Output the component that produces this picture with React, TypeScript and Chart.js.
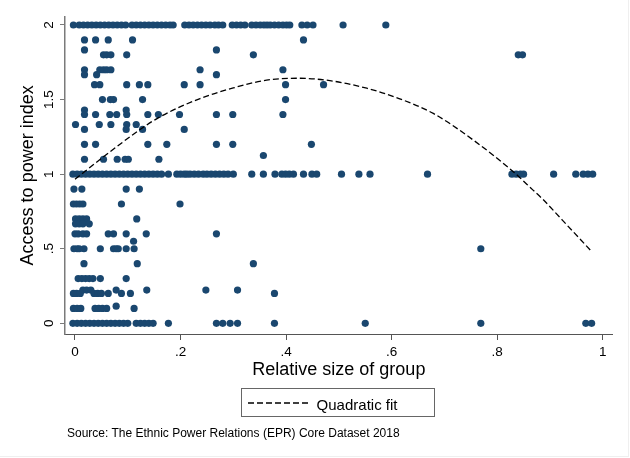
import React, { useEffect, useRef } from "react";
import { Chart, registerables } from "chart.js";

Chart.register(...registerables);

// ---- Data: relative group size (x) at each access-to-power level (y) ----
const sizeAt2_00 = [-0.003, 0.008, 0.016, 0.024, 0.032, 0.04, 0.048, 0.056, 0.064, 0.072, 0.08, 0.088, 0.096, 0.108, 0.116, 0.124, 0.132, 0.14, 0.148, 0.156, 0.164, 0.172, 0.18, 0.186, 0.208, 0.216, 0.224, 0.232, 0.24, 0.248, 0.256, 0.265, 0.272, 0.28, 0.298, 0.306, 0.314, 0.322, 0.335, 0.343, 0.351, 0.358, 0.364, 0.37, 0.378, 0.386, 0.394, 0.401, 0.407, 0.43, 0.44, 0.451, 0.508, 0.589];
const sizeAt1_90 = [0.018, 0.039, 0.063, 0.109, 0.433];
const sizeAt1_83 = [0.018, 0.268];
const sizeAt1_80 = [0.054, 0.06, 0.068, 0.098, 0.338, 0.84, 0.848];
const sizeAt1_70 = [0.018, 0.047, 0.054, 0.06, 0.068, 0.237, 0.394];
const sizeAt1_67 = [0.018, 0.041, 0.268];
const sizeAt1_60 = [0.037, 0.047, 0.098, 0.122, 0.138, 0.207, 0.237, 0.399, 0.471];
const sizeAt1_50 = [0.052, 0.067, 0.073, 0.128, 0.399];
const sizeAt1_43 = [0.018, 0.097];
const sizeAt1_40 = [0.018, 0.039, 0.066, 0.079, 0.098, 0.138, 0.158, 0.198, 0.268, 0.299, 0.394];
const sizeAt1_33 = [0.001, 0.046, 0.068, 0.098, 0.116];
const sizeAt1_30 = [0.018, 0.097, 0.128, 0.207];
const sizeAt1_20 = [0.018, 0.039, 0.138, 0.174, 0.268, 0.299, 0.448];
const sizeAt1_13 = [0.357];
const sizeAt1_10 = [0.018, 0.054, 0.08, 0.095, 0.101, 0.159];
const sizeAt1_00 = [-0.004, 0.004, 0.012, 0.02, 0.028, 0.036, 0.044, 0.052, 0.06, 0.068, 0.076, 0.084, 0.092, 0.1, 0.108, 0.116, 0.124, 0.132, 0.14, 0.148, 0.156, 0.164, 0.177, 0.193, 0.2, 0.207, 0.212, 0.218, 0.226, 0.234, 0.243, 0.25, 0.258, 0.266, 0.274, 0.282, 0.29, 0.3, 0.335, 0.357, 0.379, 0.392, 0.399, 0.406, 0.414, 0.433, 0.449, 0.458, 0.505, 0.538, 0.559, 0.668, 0.828, 0.836, 0.844, 0.85, 0.907, 0.949, 0.963, 0.972, 0.981];
const sizeAt0_90 = [-0.002, 0.013, 0.097, 0.122];
const sizeAt0_80 = [-0.003, 0.003, 0.009, 0.015, 0.088, 0.199];
const sizeAt0_70 = [0.001, 0.008, 0.015, 0.022, 0.117];
const sizeAt0_67 = [0.001, 0.008, 0.015, 0.027];
const sizeAt0_60 = [0, 0.006, 0.015, 0.022, 0.063, 0.073, 0.097, 0.135, 0.268];
const sizeAt0_55 = [0.111];
const sizeAt0_50 = [-0.002, 0.004, 0.008, 0.017, 0.048, 0.073, 0.078, 0.082, 0.097, 0.112, 0.769];
const sizeAt0_40 = [0.017, 0.118, 0.338];
const sizeAt0_30 = [0.006, 0.013, 0.02, 0.027, 0.034, 0.048, 0.097];
const sizeAt0_22 = [0.015, 0.022, 0.03, 0.078, 0.136, 0.248, 0.308];
const sizeAt0_20 = [-0.003, 0.003, 0.01, 0.036, 0.043, 0.05, 0.063, 0.088, 0.105, 0.378];
const sizeAt0_12 = [0.078];
const sizeAt0_10 = [-0.003, 0.004, 0.011, 0.038, 0.045, 0.052, 0.06, 0.112];
const sizeAt0_00 = [-0.004, 0.004, 0.012, 0.02, 0.028, 0.036, 0.044, 0.052, 0.06, 0.068, 0.076, 0.084, 0.092, 0.1, 0.116, 0.124, 0.132, 0.14, 0.148, 0.177, 0.268, 0.28, 0.294, 0.308, 0.378, 0.55, 0.769, 0.968, 0.979];

const accessLevels = [2, 1.9, 1.833, 1.8, 1.7, 1.667, 1.6, 1.5, 1.43, 1.4, 1.333, 1.3, 1.2, 1.125, 1.1, 1, 0.9, 0.8, 0.7, 0.667, 0.6, 0.55, 0.5, 0.4, 0.3, 0.223, 0.2, 0.115, 0.1, 0];
const sizesPerLevel = [sizeAt2_00, sizeAt1_90, sizeAt1_83, sizeAt1_80, sizeAt1_70, sizeAt1_67, sizeAt1_60, sizeAt1_50, sizeAt1_43, sizeAt1_40, sizeAt1_33, sizeAt1_30, sizeAt1_20, sizeAt1_13, sizeAt1_10, sizeAt1_00, sizeAt0_90, sizeAt0_80, sizeAt0_70, sizeAt0_67, sizeAt0_60, sizeAt0_55, sizeAt0_50, sizeAt0_40, sizeAt0_30, sizeAt0_22, sizeAt0_20, sizeAt0_12, sizeAt0_10, sizeAt0_00];

// Quadratic fit curve
const fitSize = [0, 0.054, 0.126, 0.161, 0.237, 0.3, 0.363, 0.42, 0.483, 0.553, 0.614, 0.679, 0.755, 0.831, 0.868, 0.887, 0.924, 0.98];
const fitAccess = [0.966, 1.116, 1.306, 1.384, 1.507, 1.578, 1.63, 1.643, 1.627, 1.576, 1.507, 1.407, 1.228, 1.015, 0.893, 0.83, 0.69, 0.478];

// Ticks
const xTickValues = [0, 0.2, 0.4, 0.6, 0.8, 1];
const xTickLabels = ["0", ".2", ".4", ".6", ".8", "1"];
const yTickValues = [0, 0.5, 1, 1.5, 2];
const yTickLabels = ["0", ".5", "1", "1.5", "2"];

const FONT = '"Liberation Sans", Arial, Helvetica, sans-serif';
const NAVY = "#1a476f";
const AXIS_X = "#555555";
const AXIS_Y = "#7a7a7a";

export default function App() {
  const ref = useRef<HTMLCanvasElement | null>(null);

  useEffect(() => {
    const canvas = ref.current;
    if (!canvas) return;
    const points: { x: number; y: number }[] = [];
    sizesPerLevel.forEach((sizes, i) => {
      sizes.forEach((s) => points.push({ x: s, y: accessLevels[i] }));
    });
    const fit = fitSize.map((x, i) => ({ x, y: fitAccess[i] }));

    const chart = new Chart(canvas, {
      type: "scatter",
      data: {
        datasets: [
          {
            type: "line",
            label: "Quadratic fit",
            data: fit,
            borderColor: "#000000",
            borderWidth: 1.3,
            borderDash: [6, 3],
            pointRadius: 0,
            fill: false,
            cubicInterpolationMode: "monotone",
          } as any,
          {
            label: "Access to power index",
            data: points,
            backgroundColor: NAVY,
            borderColor: NAVY,
            borderWidth: 0,
            pointRadius: 3.6,
            pointHoverRadius: 3.6,
          },
        ],
      },
      options: {
        animation: false,
        responsive: false,
        events: [],
        layout: { padding: { left: 0, top: 16.7, right: 17.3, bottom: 0 } },
        plugins: { legend: { display: false }, tooltip: { enabled: false } },
        scales: {
          x: {
            type: "linear",
            min: -0.01895,
            max: 1.01895,
            afterBuildTicks: (s: any) => {
              s.ticks = xTickValues.map((v) => ({ value: v }));
            },
            afterFit: (s: any) => {
              s.height = 124;
            },
            grid: { display: true, drawOnChartArea: false, drawTicks: true, tickLength: 6, color: AXIS_X, lineWidth: 1 },
            border: { display: true, color: AXIS_X, width: 1 },
            ticks: {
              autoSkip: false,
              maxRotation: 0,
              minRotation: 0,
              padding: 4.5,
              color: "#000",
              font: { family: FONT, size: 13.5 },
              callback: (_v: any, i: number) => xTickLabels[i],
            },
            title: {
              display: true,
              text: "Relative size of group",
              color: "#000",
              font: { family: FONT, size: 18 },
              padding: { top: 0, bottom: 77.4 },
            },
          },
          y: {
            type: "linear",
            min: -0.0717,
            max: 2.0556,
            afterBuildTicks: (s: any) => {
              s.ticks = yTickValues.map((v) => ({ value: v }));
            },
            afterFit: (s: any) => {
              s.width = 65;
            },
            grid: { display: true, drawOnChartArea: false, drawTicks: true, tickLength: 5, color: AXIS_Y, lineWidth: 1 },
            border: { display: true, color: AXIS_Y, width: 1.5 },
            ticks: {
              autoSkip: false,
              minRotation: 90,
              maxRotation: 90,
              crossAlign: "center",
              padding: 1.6,
              color: "#000",
              font: { family: FONT, size: 13.5 },
              callback: (_v: any, i: number) => yTickLabels[i],
            },
            title: {
              display: true,
              text: "Access to power index",
              color: "#000",
              font: { family: FONT, size: 18 },
              padding: { top: 17.7, bottom: 0 },
            },
          },
        },
      } as any,
    });
    return () => chart.destroy();
  }, []);

  return (
    <div style={{ position: "fixed", left: 0, top: 0, width: 630, height: 458, background: "#fff", overflow: "hidden" }}>
      <canvas ref={ref} width={630} height={458} style={{ position: "absolute", left: 0, top: 0, width: 630, height: 458 }} />
      <div style={{ position: "absolute", left: 0, top: 0, width: 628, height: 456, borderRight: "1px solid #efefef", borderBottom: "1px solid #efefef", pointerEvents: "none" }} />
      <div style={{ position: "absolute", left: 241, top: 388, width: 194, height: 29, boxSizing: "border-box", border: "1px solid #666" }}>
        <svg style={{ position: "absolute", left: 6.3, top: 12.7 }} width={62} height={2}>
          <line x1={0} y1={1} x2={60} y2={1} stroke="#000" strokeWidth={1.3} strokeDasharray="6 3" />
        </svg>
        <span style={{ position: "absolute", left: 74.6, top: 7.8, fontFamily: FONT, fontSize: 15, lineHeight: "15px", whiteSpace: "nowrap", color: "#000" }}>
          Quadratic fit
        </span>
      </div>
      <div style={{ position: "absolute", left: 67, top: 426.5, fontFamily: FONT, fontSize: 12, lineHeight: "12px", whiteSpace: "nowrap", color: "#000" }}>
        Source: The Ethnic Power Relations (EPR) Core Dataset 2018
      </div>
    </div>
  );
}
